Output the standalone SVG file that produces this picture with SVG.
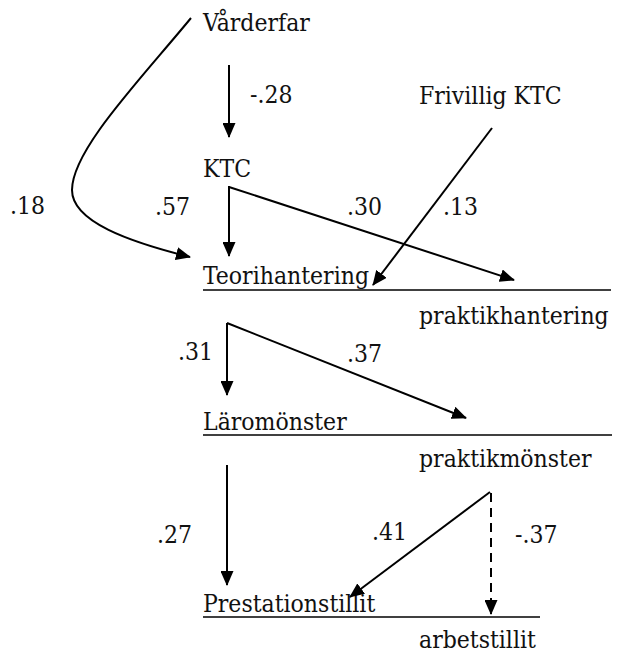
<svg xmlns="http://www.w3.org/2000/svg" width="622" height="653" viewBox="0 0 622 653">
<defs>
<style>
text{font-family:"DejaVu Serif Condensed","DejaVu Serif",serif;font-stretch:condensed;font-size:24.5px;fill:#111}
.l{fill:none;stroke:#000;stroke-width:2}
.u{stroke:#000;stroke-width:1.3}
</style>
<marker id="a" viewBox="0 0 15 13" refX="14" refY="6.5" markerWidth="15" markerHeight="13" markerUnits="userSpaceOnUse" orient="auto"><path d="M0,0 L15,6.5 L0,13 z" fill="#000"/></marker>
</defs>
<g id="n-varderfar"><text x="203" y="31">Vårderfar</text></g>
<g id="n-frivillig"><text x="419" y="104">Frivillig KTC</text></g>
<g id="n-ktc"><text x="203" y="177">KTC</text></g>
<g id="n-teori"><text x="203" y="284">Teorihantering</text><line class="u" x1="203" y1="290" x2="611" y2="290"/></g>
<g id="n-praktikh"><text x="419" y="324">praktikhantering</text></g>
<g id="n-laro"><text x="203" y="430">Läromönster</text><line class="u" x1="203" y1="435" x2="612" y2="435"/></g>
<g id="n-praktikm"><text x="419" y="467">praktikmönster</text></g>
<g id="n-prest"><text x="203" y="612">Prestationstillit</text><line class="u" x1="203" y1="617" x2="540" y2="617"/></g>
<g id="n-arbets"><text x="419" y="648">arbetstillit</text></g>
<g id="connectors">
<path class="l" d="M191,18 C140,80 72,150 72,190 C72,222 130,242 190,257" marker-end="url(#a)"/>
<line class="l" x1="229" y1="65" x2="229" y2="137" marker-end="url(#a)"/>
<line class="l" x1="229" y1="186" x2="229" y2="256" marker-end="url(#a)"/>
<polyline class="l" points="229,187 514,280" marker-end="url(#a)"/>
<line class="l" x1="492" y1="128" x2="373" y2="285" marker-end="url(#a)"/>
<line class="l" x1="227" y1="323" x2="227" y2="395" marker-end="url(#a)"/>
<line class="l" x1="227" y1="323" x2="466" y2="418" marker-end="url(#a)"/>
<line class="l" x1="227" y1="465" x2="227" y2="585" marker-end="url(#a)"/>
<line class="l" x1="490" y1="492" x2="350" y2="597" marker-end="url(#a)"/>
<line class="l" x1="491" y1="493" x2="491" y2="614" stroke-dasharray="9,6" marker-end="url(#a)"/>
</g>
<g id="labels">
<text x="250" y="103">-.28</text>
<text x="10" y="214">.18</text>
<text x="155" y="215">.57</text>
<text x="347" y="215">.30</text>
<text x="443" y="215">.13</text>
<text x="178" y="360">.31</text>
<text x="347" y="362">.37</text>
<text x="157" y="543">.27</text>
<text x="372" y="540">.41</text>
<text x="515" y="543">-.37</text>
</g>
</svg>
